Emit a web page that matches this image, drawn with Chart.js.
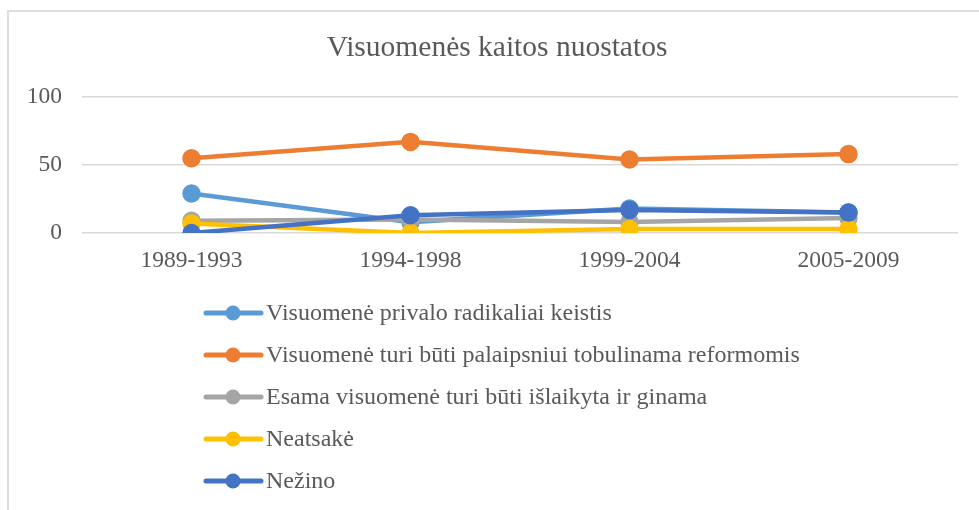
<!DOCTYPE html>
<html>
<head>
<meta charset="utf-8">
<script src="https://cdn.jsdelivr.net/npm/chart.js@4"></script>
<style>
  html, body { margin: 0; padding: 0; background: #fff; }
  #wrap { position: relative; width: 979px; height: 510px; overflow: hidden; }
  #frame { position: absolute; left: 7px; top: 10px; width: 1000px; height: 600px;
    border-left: 2px solid #dedede; border-top: 2px solid #dedede; }
  canvas { position: absolute; left: 0; top: 0; }
</style>
</head>
<body>
<div id="wrap">
  <div id="frame"></div>
  <canvas id="chart" width="979" height="510"></canvas>
</div>
<script>
// Duomenys
const chartTitle = "Visuomenės kaitos nuostatos";
const periods = ["1989-1993", "1994-1998", "1999-2004", "2005-2009"];
const seriesNames = [
  "Visuomenė privalo radikaliai keistis",
  "Visuomenė turi būti palaipsniui tobulinama reformomis",
  "Esama visuomenė turi būti išlaikyta ir ginama",
  "Neatsakė",
  "Nežino",
];
const radikaliai = [29, 8, 18, 15];
const reformomis = [55, 67, 54, 58];
const islaikyta = [9, 10, 8, 11];
const neatsake = [7, 0, 3, 3];
const nezino = [0, 13, 17, 15];
const seriesColors = ["#5B9BD5", "#ED7D31", "#A5A5A5", "#FFC000", "#4472C4"];
const yTicks = [0, 50, 100];

const FONT = "'Liberation Serif', 'Times New Roman', serif";
const TEXT = "#595959";

const allValues = [radikaliai, reformomis, islaikyta, neatsake, nezino];
const datasets = allValues.map((vals, i) => ({
  label: seriesNames[i],
  data: vals,
  borderColor: seriesColors[i],
  backgroundColor: seriesColors[i],
  pointBackgroundColor: seriesColors[i],
  pointBorderColor: seriesColors[i],
  borderWidth: 4.5,
  pointRadius: 7,
  pointHoverRadius: 7,
  tension: 0,
  order: allValues.length - i, // Excel piešia paskutinę seriją viršuje
}));

// Pavadinimas ir legenda piešiami ranka
const titleAndLegend = {
  id: "titleAndLegend",
  afterDraw(chart) {
    const ctx = chart.ctx;
    ctx.save();
    ctx.fillStyle = TEXT;
    ctx.textBaseline = "middle";
    ctx.textAlign = "center";
    ctx.font = "29.5px " + FONT;
    ctx.fillText(chartTitle, 497, 48);

    ctx.textAlign = "left";
    ctx.font = "24px " + FONT;
    seriesNames.forEach((name, i) => {
      const y = 313 + i * 42;
      ctx.strokeStyle = seriesColors[i];
      ctx.lineWidth = 5;
      ctx.lineCap = "round";
      ctx.beginPath();
      ctx.moveTo(206, y);
      ctx.lineTo(261, y);
      ctx.stroke();
      ctx.fillStyle = seriesColors[i];
      ctx.beginPath();
      ctx.arc(233, y, 7.5, 0, Math.PI * 2);
      ctx.fill();
      ctx.fillStyle = TEXT;
      ctx.fillText(name, 266, y + 1);
    });
    ctx.restore();
  },
};

new Chart(document.getElementById("chart"), {
  type: "line",
  data: { labels: periods, datasets },
  options: {
    responsive: false,
    animation: false,
    layout: { padding: { top: 97, left: 27, right: 21, bottom: 235 } },
    plugins: {
      legend: { display: false },
      title: { display: false },
      tooltip: { enabled: false },
    },
    scales: {
      x: {
        offset: true,
        grid: { display: false, drawTicks: false },
        border: { display: false },
        ticks: { color: TEXT, font: { family: FONT, size: 23.5 }, padding: 14, maxRotation: 0 },
        afterFit: (s) => { s.height = 42; },
      },
      y: {
        min: 0,
        max: 100,
        afterBuildTicks: (s) => { s.ticks = yTicks.map((v) => ({ value: v })); },
        grid: { color: "#d9d9d9", lineWidth: 1.5, drawTicks: false },
        border: { display: false },
        ticks: { color: TEXT, font: { family: FONT, size: 23.5 }, padding: 20 },
        afterFit: (s) => { s.width = 55; },
      },
    },
  },
  plugins: [titleAndLegend],
});
</script>
</body>
</html>
